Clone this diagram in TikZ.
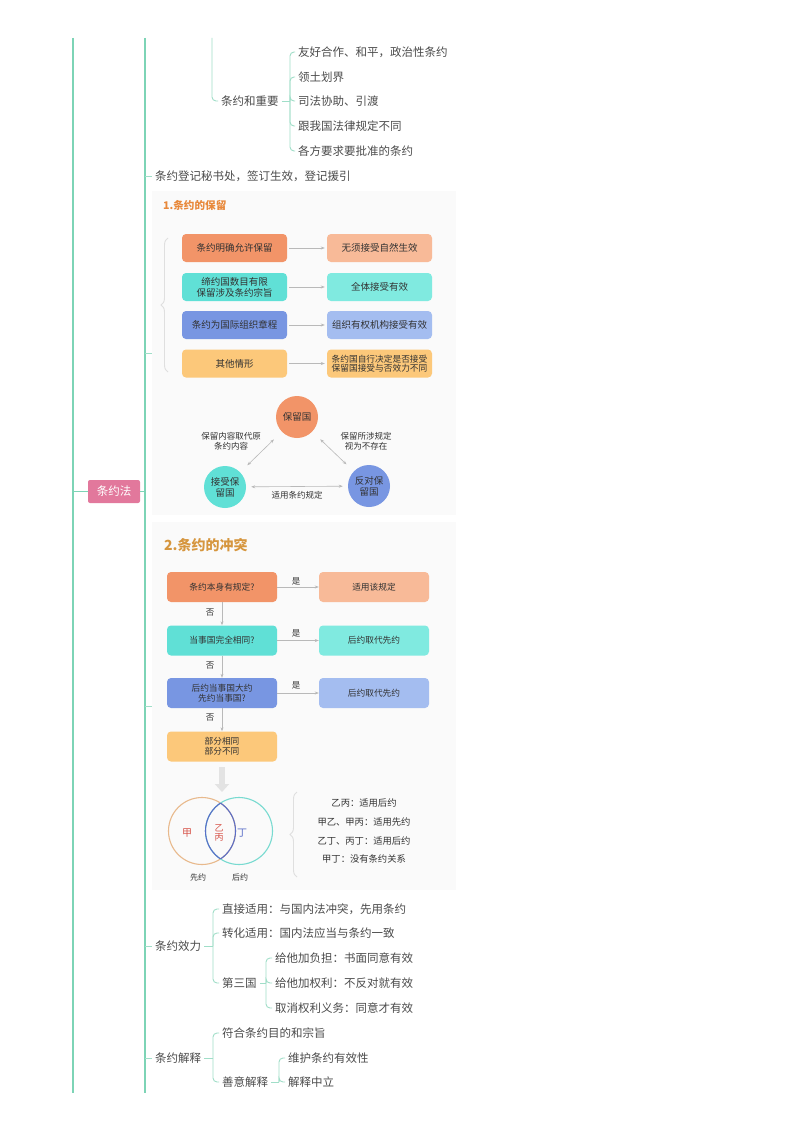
\documentclass[tikz,border=0pt]{standalone}
\usepackage{fontspec}
\setmainfont{Noto Sans CJK SC}
\usetikzlibrary{arrows.meta,decorations.pathreplacing,calc}
\definecolor{mgreen}{RGB}{125,212,182}
\definecolor{sgreen}{RGB}{160,222,200}
\definecolor{txtgray}{RGB}{75,75,75}
\definecolor{boxtxt}{RGB}{50,50,50}
\definecolor{pinkbox}{RGB}{226,120,156}
\definecolor{orA}{RGB}{242,148,104}
\definecolor{orB}{RGB}{248,186,152}
\definecolor{tlA}{RGB}{96,224,214}
\definecolor{tlB}{RGB}{128,234,224}
\definecolor{blA}{RGB}{120,150,226}
\definecolor{blB}{RGB}{164,189,240}
\definecolor{ylA}{RGB}{252,200,122}
\definecolor{panelbg}{RGB}{250,250,250}
\definecolor{ttlor}{RGB}{232,136,58}
\definecolor{ttlgd}{RGB}{214,150,62}
\definecolor{vred}{RGB}{214,80,70}
\definecolor{vblue}{RGB}{90,110,200}
\definecolor{vtan}{RGB}{232,185,140}
\definecolor{vteal}{RGB}{120,218,208}
\tikzset{
  mtxt/.style={font=\fontsize{11.5}{13}\selectfont, text=txtgray, inner sep=0pt, anchor=west},
  mline/.style={draw=mgreen, line width=1.4pt},
  sline/.style={draw=sgreen, line width=0.9pt, rounded corners=4pt},
  panel/.style={fill=panelbg, draw=none, inner sep=0pt},
  rbox/.style={rounded corners=4pt, minimum width=105pt, minimum height=28pt, inner sep=1pt,
    font=\fontsize{9.5}{11}\selectfont, text=boxtxt, align=center},
  fbox/.style={rounded corners=4pt, minimum width=110pt, minimum height=30pt, inner sep=1pt,
    font=\fontsize{8.7}{10}\selectfont, text=boxtxt, align=center},
  garrow/.style={draw=gray!55, line width=0.6pt, -{Stealth[length=4pt,width=3pt]}},
  garrow2/.style={draw=gray!55, line width=0.6pt, {Stealth[length=4pt,width=3pt]}-{Stealth[length=4pt,width=3pt]}},
  circ/.style={circle, minimum size=42pt, inner sep=0pt, font=\fontsize{9.5}{11}\selectfont, text=boxtxt, align=center},
  small/.style={font=\fontsize{8.5}{10}\selectfont, text=boxtxt, align=center, inner sep=0pt},
  vtxt/.style={font=\fontsize{9.3}{11}\selectfont, text=boxtxt, inner sep=0pt},
  bracegray/.style={draw=gray!25, line width=0.9pt, decorate, decoration={brace, amplitude=7pt}}
}
\begin{document}
\begin{tikzpicture}[x=1pt,y=-1pt]
\useasboundingbox (0,0) rectangle (800,1132);
\fill[white] (0,0) rectangle (800,1132);

% ---- main vertical lines
\coordinate (r1) at (73,38);
\coordinate (r2) at (73,1093);
\coordinate (rm) at (73,491.5);
\coordinate (s1) at (145,38);
\coordinate (s2) at (145,1093);
\coordinate (sm) at (145,491.5);
\draw[mline] (r1) -- (r2);
\draw[mline] (s1) -- (s2);

\node[rounded corners=2pt, fill=pinkbox, text=white, minimum width=52pt, minimum height=23pt, inner sep=0pt,
  font=\fontsize{11.5}{13}\selectfont] (fa) at (114,491.5) {条约法};
\draw[mline] (rm) -- (fa.west);
\draw[mline] (fa.east) -- (sm);

% ---- top part
\coordinate (t3) at (212,38);
\node[mtxt] (hz) at (221,101) {条约和重要};
\node[mtxt] (c1) at (298,52) {友好合作、和平，政治性条约};
\node[mtxt] (c2) at (298,77) {领土划界};
\node[mtxt] (c3) at (298,101) {司法协助、引渡};
\node[mtxt] (c4) at (298,126) {跟我国法律规定不同};
\node[mtxt] (c5) at (298,151) {各方要求要批准的条约};
\draw[sline] (t3) |- ($(hz.west)+(-3,0)$);
\coordinate (b1) at (290,101);
\draw[sline] ($(hz.east)+(3,0)$) -- (b1);
\foreach \c in {c1,c2,c3,c4,c5} \draw[sline] (b1) |- ($(\c.west)+(-3,0)$);

\node[mtxt] (reg) at (155,176) {条约登记秘书处，签订生效，登记援引};
\coordinate (sreg) at (145,176);
\draw[sline] (sreg) -- ($(reg.west)+(-3,0)$);

% ---- panel 1
\node[panel, minimum width=304pt, minimum height=324pt] (pan1) at (304,353) {};
\coordinate (sp1) at (145,353);
\draw[sline] (sp1) -- (pan1.west);
\node[anchor=west, inner sep=0pt, text=ttlor, font=\bfseries\fontsize{10.6}{12}\selectfont] (ti1) at (163,205) {1.条约的保留};

\node[rbox, fill=orA] (a1) at (234.5,248) {条约明确允许保留};
\node[rbox, fill=orB] (b1x) at (379.5,248) {无须接受自然生效};
\node[rbox, fill=tlA] (a2) at (234.5,287) {缔约国数目有限\\保留涉及条约宗旨};
\node[rbox, fill=tlB] (b2x) at (379.5,287) {全体接受有效};
\node[rbox, fill=blA] (a3) at (234.5,325) {条约为国际组织章程};
\node[rbox, fill=blB] (b3x) at (379.5,325) {组织有权机构接受有效};
\node[rbox, fill=ylA] (a4) at (234.5,363.5) {其他情形};
\node[rbox, fill=ylA, font=\fontsize{8.7}{9.6}\selectfont] (b4x) at (379.5,363.5) {条约国自行决定是否接受\\保留国接受与否效力不同};
\draw[garrow, shorten <=2pt, shorten >=2pt] (a1.east) -- (b1x.west);
\draw[garrow, shorten <=2pt, shorten >=2pt] (a2.east) -- (b2x.west);
\draw[garrow, shorten <=2pt, shorten >=2pt] (a3.east) -- (b3x.west);
\draw[garrow, shorten <=2pt, shorten >=2pt] (a4.east) -- (b4x.west);
\coordinate (br1a) at (168,372);
\coordinate (br1b) at (168,238);
\draw[bracegray] (br1a) -- (br1b);

\node[circ, fill=orA] (k1) at (297,417) {保留国};
\node[circ, fill=tlA] (k2) at (225,487) {接受保\\留国};
\node[circ, fill=blA] (k3) at (369,486) {反对保\\留国};
\draw[garrow2, shorten <=11pt, shorten >=10pt] (k1) -- (k2);
\draw[garrow2, shorten <=11pt, shorten >=10pt] (k1) -- (k3);
\draw[garrow2, shorten <=5pt, shorten >=5pt] (k2) -- (k3);
\node[small] (l1) at (231,441) {保留内容取代原\\条约内容};
\node[small] (l2) at (366,441) {保留所涉规定\\视为不存在};
\node[small] (l3) at (297,495) {适用条约规定};

% ---- panel 2
\node[panel, minimum width=304pt, minimum height=368pt] (pan2) at (304,706) {};
\coordinate (sp2) at (145,706);
\draw[sline] (sp2) -- (pan2.west);
\node[anchor=west, inner sep=0pt, text=ttlgd, font=\bfseries\fontsize{14}{16}\selectfont] (ti2) at (164,545) {2.条约的冲突};

\node[fbox, fill=orA] (q1) at (222,587) {条约本身有规定?};
\node[fbox, fill=orB] (w1) at (374,587) {适用该规定};
\node[fbox, fill=tlA] (q2) at (222,640.5) {当事国完全相同?};
\node[fbox, fill=tlB] (w2) at (374,640.5) {后约取代先约};
\node[fbox, fill=blA] (q3) at (222,693) {后约当事国大约\\先约当事国?};
\node[fbox, fill=blB] (w3) at (374,693) {后约取代先约};
\node[fbox, fill=ylA] (q4) at (222,746.5) {部分相同\\部分不同};
\draw[garrow] (q1.east) -- (w1.west);
\draw[garrow] (q2.east) -- (w2.west);
\draw[garrow] (q3.east) -- (w3.west);
\draw[garrow] (q1.south) -- (q2.north);
\draw[garrow] (q2.south) -- (q3.north);
\draw[garrow] (q3.south) -- (q4.north);
\node[small] (y1) at (296,581) {是};
\node[small] (y2) at (296,633) {是};
\node[small] (y3) at (296,685) {是};
\node[small] (n1) at (210,613) {否};
\node[small] (n2) at (210,666) {否};
\node[small] (n3) at (210,718) {否};

\coordinate (da1) at (222,767);
\coordinate (da2) at (222,792);
\draw[draw=gray!22, line width=6pt, -{Triangle[length=8pt,width=14pt]}] (da1) -- (da2);

% venn
\node[circle, draw=vtan, line width=1.1pt, minimum size=67pt, inner sep=0pt] (v1) at (202,831) {};
\node[circle, draw=vteal, line width=1.1pt, minimum size=67pt, inner sep=0pt] (v2) at (239,831) {};
\begin{scope}
  \clip (202,831) circle (33.5);
  \draw[vblue, line width=1.1pt] (239,831) circle (33.5);
\end{scope}
\begin{scope}
  \clip (239,831) circle (33.5);
  \draw[vblue, line width=1.1pt] (202,831) circle (33.5);
\end{scope}
\node[inner sep=0pt, text=vred, font=\fontsize{10}{11}\selectfont] (jia) at (187,833) {甲};
\node[inner sep=0pt, text=vred, font=\fontsize{9}{9}\selectfont, align=center] (yb) at (219,833) {乙\\丙};
\node[inner sep=0pt, text=vblue, font=\fontsize{10}{11}\selectfont] (ding) at (242,833) {丁};
\node[small, font=\fontsize{8}{9}\selectfont] (xy) at (198,877) {先约};
\node[small, font=\fontsize{8}{9}\selectfont] (hy) at (240,877) {后约};
\coordinate (br2a) at (297,877);
\coordinate (br2b) at (297,792);
\draw[bracegray] (br2a) -- (br2b);
\node[vtxt] (u1) at (364,803) {乙丙：适用后约};
\node[vtxt] (u2) at (364,822) {甲乙、甲丙：适用先约};
\node[vtxt] (u3) at (364,841) {乙丁、丙丁：适用后约};
\node[vtxt] (u4) at (364,859) {甲丁：没有条约关系};

% ---- 条约效力
\node[mtxt] (xl) at (155,946) {条约效力};
\coordinate (sxl) at (145,946);
\draw[sline] (sxl) -- ($(xl.west)+(-3,0)$);
\node[mtxt] (d1) at (222,909) {直接适用：与国内法冲突，先用条约};
\node[mtxt] (d2) at (222,933) {转化适用：国内法应当与条约一致};
\node[mtxt] (d3) at (222,983) {第三国};
\coordinate (bx) at (213,946);
\draw[sline] ($(xl.east)+(3,0)$) -- (bx);
\foreach \c in {d1,d2,d3} \draw[sline] (bx) |- ($(\c.west)+(-3,0)$);
\node[mtxt] (e1) at (275,958) {给他加负担：书面同意有效};
\node[mtxt] (e2) at (275,983) {给他加权利：不反对就有效};
\node[mtxt] (e3) at (275,1008) {取消权利义务：同意才有效};
\coordinate (bd) at (266,983);
\draw[sline] ($(d3.east)+(3,0)$) -- (bd);
\foreach \c in {e1,e2,e3} \draw[sline] (bd) |- ($(\c.west)+(-3,0)$);

% ---- 条约解释
\node[mtxt] (js) at (155,1058) {条约解释};
\coordinate (sjs) at (145,1058);
\draw[sline] (sjs) -- ($(js.west)+(-3,0)$);
\node[mtxt] (f1) at (222,1033) {符合条约目的和宗旨};
\node[mtxt] (f2) at (222,1082) {善意解释};
\coordinate (bj) at (213,1058);
\draw[sline] ($(js.east)+(3,0)$) -- (bj);
\foreach \c in {f1,f2} \draw[sline] (bj) |- ($(\c.west)+(-3,0)$);
\node[mtxt] (g1) at (288,1058) {维护条约有效性};
\node[mtxt] (g2) at (288,1082) {解释中立};
\coordinate (bf) at (279,1082);
\draw[sline] ($(f2.east)+(3,0)$) -- (bf);
\foreach \c in {g1,g2} \draw[sline] (bf) |- ($(\c.west)+(-3,0)$);
\end{tikzpicture}
\end{document}
